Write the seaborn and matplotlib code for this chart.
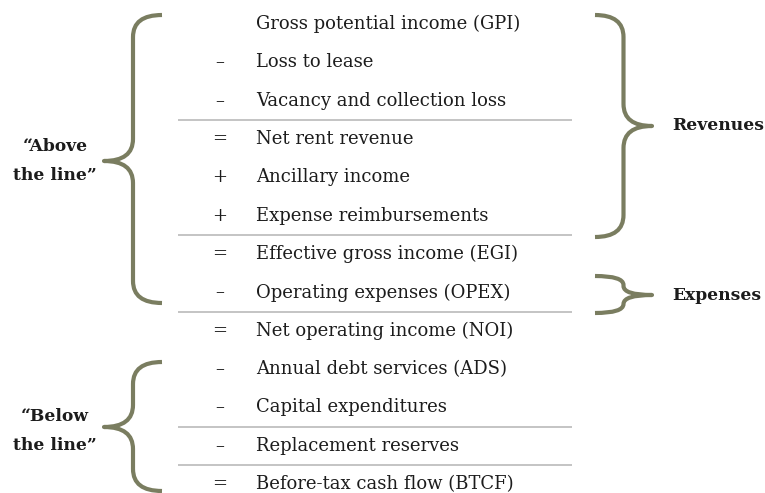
#Income statement "above/below the line" diagram
import matplotlib
matplotlib.use("Agg")
import matplotlib.pyplot as plt
from matplotlib.path import Path
from matplotlib.patches import PathPatch
import seaborn as sns

#Rows of the statement
signs = ["", "\u2013", "\u2013", "=", "+", "+", "=", "\u2013", "=", "\u2013", "\u2013", "\u2013", "="]
items = ["Gross potential income (GPI)",
         "Loss to lease",
         "Vacancy and collection loss",
         "Net rent revenue",
         "Ancillary income",
         "Expense reimbursements",
         "Effective gross income (EGI)",
         "Operating expenses (OPEX)",
         "Net operating income (NOI)",
         "Annual debt services (ADS)",
         "Capital expenditures",
         "Replacement reserves",
         "Before-tax cash flow (BTCF)"]
rules_after = [2, 5, 7, 10, 11]   #grey line under these rows
left_groups = ["\u201cAbove\nthe line\u201d", "\u201cBelow\nthe line\u201d"]
right_groups = ["Revenues", "Expenses"]

sns.set_theme(style="white")
plt.rcParams['font.family'] = ['DejaVu Serif']

fig, ax = plt.subplots(figsize=(7.65, 4.93), dpi=100)
fig.subplots_adjust(0, 0, 1, 1)
ax.set_xlim(0, 765)
ax.set_ylim(493, 0)
ax.axis("off")

ink = "#1c1c1c"
brace_col = "#7a7d60"
row_y = lambda i: 24 + 38.35 * i

for i, (s, t) in enumerate(zip(signs, items)):
    ax.text(220, row_y(i), s, ha="center", va="center", fontsize=13, color=ink)
    ax.text(256, row_y(i), t, ha="left", va="center", fontsize=13, color=ink)

for i in rules_after:
    yy = (row_y(i) + row_y(i + 1)) / 2
    ax.hlines(yy, 178, 572, color="#c4c4c4", lw=1.4)


def brace(top, bot, tip_y, x_end, x_tip):
    #curly brace; opens left if x_tip < x_end
    xm = (x_end + x_tip) / 2
    r = min(22, (tip_y - top) / 2, (bot - tip_y) / 2)
    verts = [(x_end, top), (xm, top), (xm, top + r),
             (xm, tip_y - r),
             (xm, tip_y), (x_tip, tip_y),
             (xm, tip_y), (xm, tip_y + r),
             (xm, bot - r),
             (xm, bot), (x_end, bot)]
    codes = [Path.MOVETO, Path.CURVE3, Path.CURVE3,
             Path.LINETO,
             Path.CURVE3, Path.CURVE3,
             Path.CURVE3, Path.CURVE3,
             Path.LINETO,
             Path.CURVE3, Path.CURVE3]
    ax.add_patch(PathPatch(Path(verts, codes), fill=False, ec=brace_col,
                           lw=3.0, capstyle="butt", joinstyle="round"))


brace(15, 303, 161, 162, 104)
brace(362, 491, 427, 162, 104)
brace(15, 237, 126, 595, 652)
brace(276, 313, 295, 595, 652)

ax.text(55, 161, left_groups[0], ha="center", va="center", fontsize=12.3,
        fontweight="bold", color=ink, linespacing=1.95)
ax.text(55, 431, left_groups[1], ha="center", va="center", fontsize=12.3,
        fontweight="bold", color=ink, linespacing=1.95)
ax.text(672, 126, right_groups[0], ha="left", va="center", fontsize=12.3,
        fontweight="bold", color=ink)
ax.text(672, 295, right_groups[1], ha="left", va="center", fontsize=12.3,
        fontweight="bold", color=ink)

fig.savefig("out.png", dpi=100)
